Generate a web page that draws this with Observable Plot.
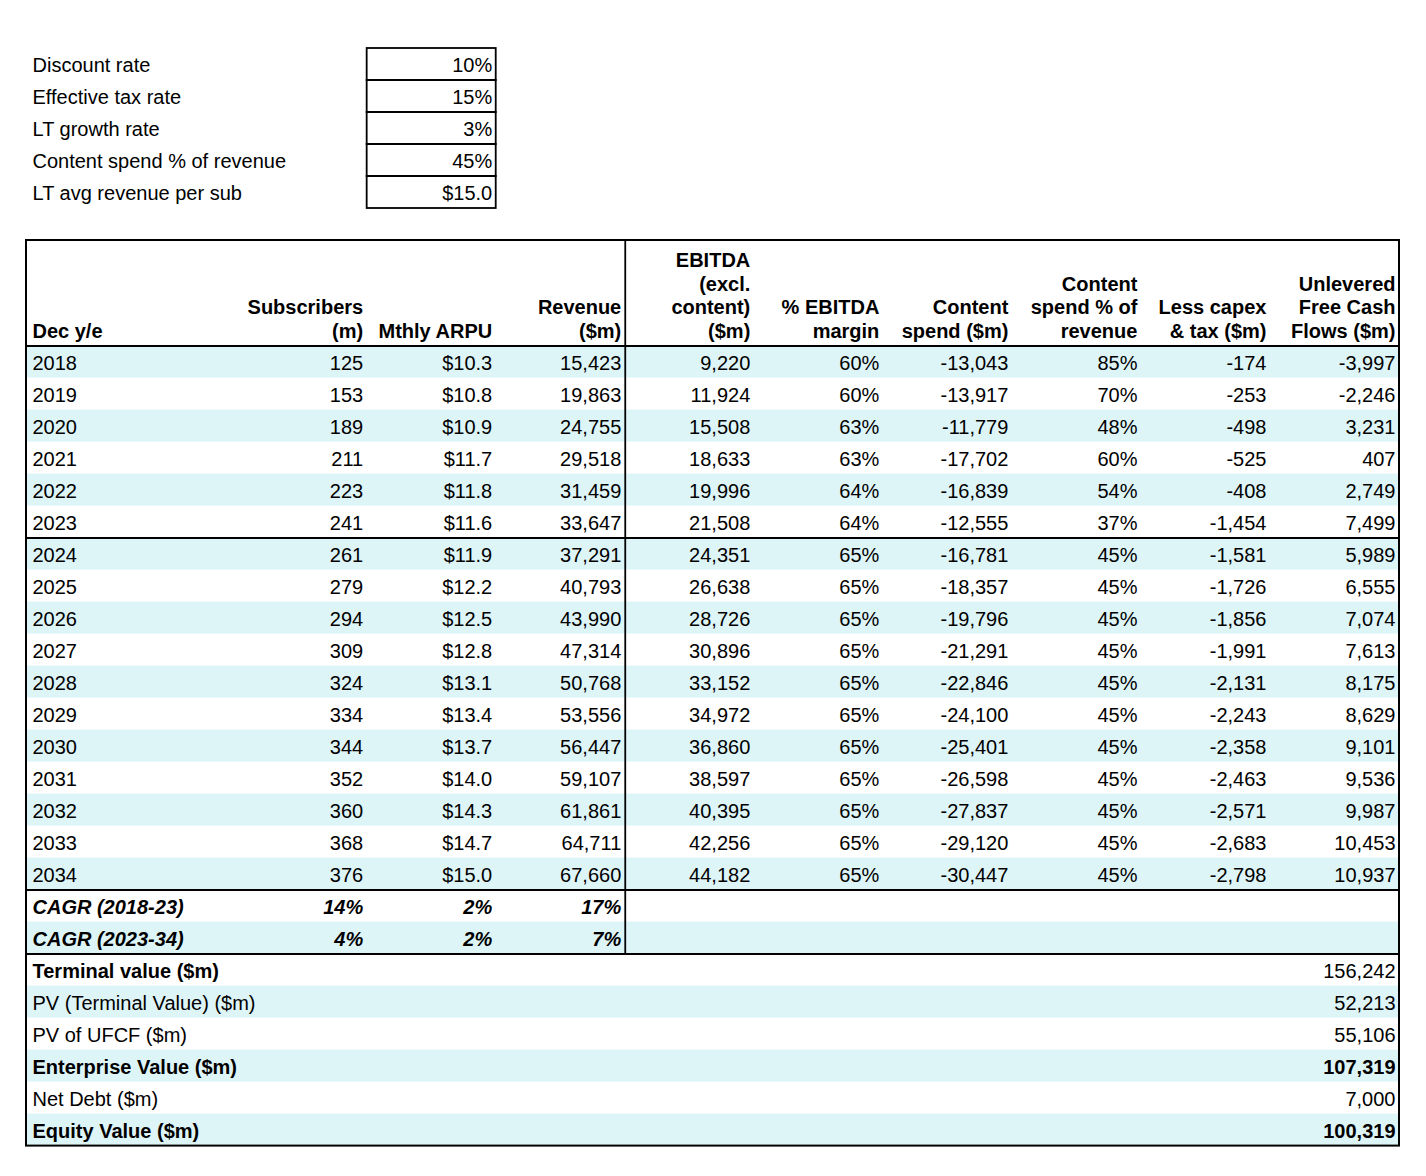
<!DOCTYPE html>
<html>
<head>
<meta charset="utf-8">
<script src="https://cdn.jsdelivr.net/npm/d3@7"></script>
<script src="https://cdn.jsdelivr.net/npm/@observablehq/plot@0.6"></script>
<style>
  html, body { margin: 0; padding: 0; background: #fff; }
  #chart svg { display: block; }
  #chart svg text { font-family: "Liberation Sans", Arial, Helvetica, sans-serif; }
</style>
</head>
<body>
<div id="chart"></div>
<script>
// ---------- DATA ----------
const inputLabels = ["Discount rate", "Effective tax rate", "LT growth rate", "Content spend % of revenue", "LT avg revenue per sub"];
const inputValues = [0.10, 0.15, 0.03, 0.45, 15.0];
const inputKinds = ["pct", "pct", "pct", "pct", "money"];

const headerLines = [
  ["Dec y/e"],
  ["Subscribers", "(m)"],
  ["Mthly ARPU"],
  ["Revenue", "($m)"],
  ["EBITDA", "(excl.", "content)", "($m)"],
  ["% EBITDA", "margin"],
  ["Content", "spend ($m)"],
  ["Content", "spend % of", "revenue"],
  ["Less capex", "& tax ($m)"],
  ["Unlevered", "Free Cash", "Flows ($m)"]
];

const years = [2018, 2019, 2020, 2021, 2022, 2023, 2024, 2025, 2026, 2027, 2028, 2029, 2030, 2031, 2032, 2033, 2034];
const subscribers = [125, 153, 189, 211, 223, 241, 261, 279, 294, 309, 324, 334, 344, 352, 360, 368, 376];
const arpu = [10.3, 10.8, 10.9, 11.7, 11.8, 11.6, 11.9, 12.2, 12.5, 12.8, 13.1, 13.4, 13.7, 14.0, 14.3, 14.7, 15.0];
const revenue = [15423, 19863, 24755, 29518, 31459, 33647, 37291, 40793, 43990, 47314, 50768, 53556, 56447, 59107, 61861, 64711, 67660];
const ebitda = [9220, 11924, 15508, 18633, 19996, 21508, 24351, 26638, 28726, 30896, 33152, 34972, 36860, 38597, 40395, 42256, 44182];
const ebitdaMargin = [60, 60, 63, 63, 64, 64, 65, 65, 65, 65, 65, 65, 65, 65, 65, 65, 65];
const contentSpend = [-13043, -13917, -11779, -17702, -16839, -12555, -16781, -18357, -19796, -21291, -22846, -24100, -25401, -26598, -27837, -29120, -30447];
const contentPct = [85, 70, 48, 60, 54, 37, 45, 45, 45, 45, 45, 45, 45, 45, 45, 45, 45];
const capexTax = [-174, -253, -498, -525, -408, -1454, -1581, -1726, -1856, -1991, -2131, -2243, -2358, -2463, -2571, -2683, -2798];
const ufcf = [-3997, -2246, 3231, 407, 2749, 7499, 5989, 6555, 7074, 7613, 8175, 8629, 9101, 9536, 9987, 10453, 10937];

const cagrLabels = ["CAGR (2018-23)", "CAGR (2023-34)"];
const cagrSubscribers = [14, 4];
const cagrArpu = [2, 2];
const cagrRevenue = [17, 7];

const summaryLabels = ["Terminal value ($m)", "PV (Terminal Value) ($m)", "PV of UFCF ($m)", "Enterprise Value ($m)", "Net Debt ($m)", "Equity Value ($m)"];
const summaryValues = [156242, 52213, 55106, 107319, 7000, 100319];
const summaryLabelBold = [true, false, false, true, false, true];
const summaryValueBold = [false, false, false, true, false, true];

// ---------- LAYOUT (scale units: x = column units, y = row units) ----------
const L = {
  tableLeft: -1.64, tableRight: 9, splitCol: 3,
  inputCol1: 1, inputCol2: 2, inputTop: 0,
  tableTop: 6, headerBottom: 9.3,
  headerLastLine: 8.8125, headerLineStep: 0.74,
  sepAfter2023: 6, sepAfterYears: 17, sepAfterCagr: 19, totalRows: 25
};
const stripe = "#def5f8";
const fontFamily = "'Liberation Sans', Arial, Helvetica, sans-serif";
const fontSize = 20;

// ---------- FORMATS ----------
const loc = d3.formatLocale({decimal: ".", thousands: ",", grouping: [3], currency: ["$", ""], minus: "-"});
const fNum = loc.format(",d");
const fMoney = loc.format("$.1f");
const fPct = v => v + "%";
const fPctFrac = loc.format(".0%");

// ---------- BUILD CELLS ----------
const cells = []; // {x, y, text, align, weight, style}
const rowY = r => L.headerBottom + r + 0.5;

inputLabels.forEach((t, i) => {
  cells.push({x: L.tableLeft, y: L.inputTop + i + 0.5, text: t, align: "start", weight: "normal", style: "normal"});
  cells.push({x: L.inputCol2, y: L.inputTop + i + 0.5,
    text: inputKinds[i] === "pct" ? fPctFrac(inputValues[i]) : fMoney(inputValues[i]),
    align: "end", weight: "normal", style: "normal"});
});

headerLines.forEach((lines, c) => {
  const n = lines.length;
  lines.forEach((t, j) => {
    cells.push({
      x: c === 0 ? L.tableLeft : c,
      y: L.headerLastLine - (n - 1 - j) * L.headerLineStep,
      text: t, align: c === 0 ? "start" : "end", weight: "bold", style: "normal"
    });
  });
});

const series = [subscribers, arpu, revenue, ebitda, ebitdaMargin, contentSpend, contentPct, capexTax, ufcf];
const formats = [fNum, fMoney, fNum, fNum, fPct, fNum, fPct, fNum, fNum];
years.forEach((yr, i) => {
  cells.push({x: L.tableLeft, y: rowY(i), text: String(yr), align: "start", weight: "normal", style: "normal"});
  series.forEach((s, c) => {
    cells.push({x: c + 1, y: rowY(i), text: formats[c](s[i]), align: "end", weight: "normal", style: "normal"});
  });
});

cagrLabels.forEach((t, i) => {
  const r = L.sepAfterYears + i;
  cells.push({x: L.tableLeft, y: rowY(r), text: t, align: "start", weight: "bold", style: "italic"});
  [cagrSubscribers, cagrArpu, cagrRevenue].forEach((s, c) => {
    cells.push({x: c + 1, y: rowY(r), text: fPct(s[i]), align: "end", weight: "bold", style: "italic"});
  });
});

summaryLabels.forEach((t, i) => {
  const r = L.sepAfterCagr + i;
  cells.push({x: L.tableLeft, y: rowY(r), text: t, align: "start", weight: summaryLabelBold[i] ? "bold" : "normal", style: "normal"});
  cells.push({x: L.tableRight, y: rowY(r), text: fNum(summaryValues[i]), align: "end", weight: summaryValueBold[i] ? "bold" : "normal", style: "normal"});
});

const stripeRows = d3.range(L.totalRows).filter(k => k % 2 === 0)
  .map(k => ({y1: L.headerBottom + k, y2: L.headerBottom + k + 1}));

const inputBoxes = inputLabels.map((t, i) => ({y1: L.inputTop + i, y2: L.inputTop + i + 1}));

const hLines = [L.headerBottom, L.headerBottom + L.sepAfter2023, L.headerBottom + L.sepAfterYears, L.headerBottom + L.sepAfterCagr]
  .map(y => ({y}));

function textMarks() {
  const groups = d3.groups(cells, d => d.align + "|" + d.weight + "|" + d.style);
  return groups.map(([key, data]) => {
    const [align, weight, style] = key.split("|");
    return Plot.text(data, {
      x: "x", y: "y", text: "text",
      textAnchor: align,
      dx: align === "start" ? 6 : -4,
      dy: 1,
      fontWeight: weight,
      fontStyle: style,
      fontSize,
      fill: "#000",
      lineAnchor: "middle"
    });
  });
}

const tableBottom = L.headerBottom + L.totalRows;

const chart = Plot.plot({
  width: 1426,
  height: 1176,
  margin: 0,
  x: {type: "linear", domain: [L.tableLeft, L.tableRight], range: [26, 1399], axis: null},
  y: {type: "linear", domain: [0, tableBottom], range: [48, 1145.6], axis: null},
  style: {fontFamily, fontSize: fontSize + "px", background: "#fff", color: "#000"},
  marks: [
    Plot.rect(stripeRows, {x1: () => L.tableLeft, x2: () => L.tableRight, y1: "y1", y2: "y2", fill: stripe}),
    Plot.rect(inputBoxes, {x1: () => L.inputCol1, x2: () => L.inputCol2, y1: "y1", y2: "y2", fill: "none", stroke: "#000", strokeWidth: 1.8}),
    Plot.ruleY(hLines, {y: "y", x1: () => L.tableLeft, x2: () => L.tableRight, stroke: "#000", strokeWidth: 2}),
    Plot.ruleX([{x: L.splitCol}], {x: "x", y1: () => L.tableTop, y2: () => L.headerBottom + L.sepAfterCagr, stroke: "#000", strokeWidth: 1.8}),
    Plot.rect([{}], {x1: () => L.tableLeft, x2: () => L.tableRight, y1: () => L.tableTop, y2: () => tableBottom, fill: "none", stroke: "#000", strokeWidth: 2}),
    ...textMarks()
  ]
});

document.getElementById("chart").appendChild(chart);
</script>
</body>
</html>
